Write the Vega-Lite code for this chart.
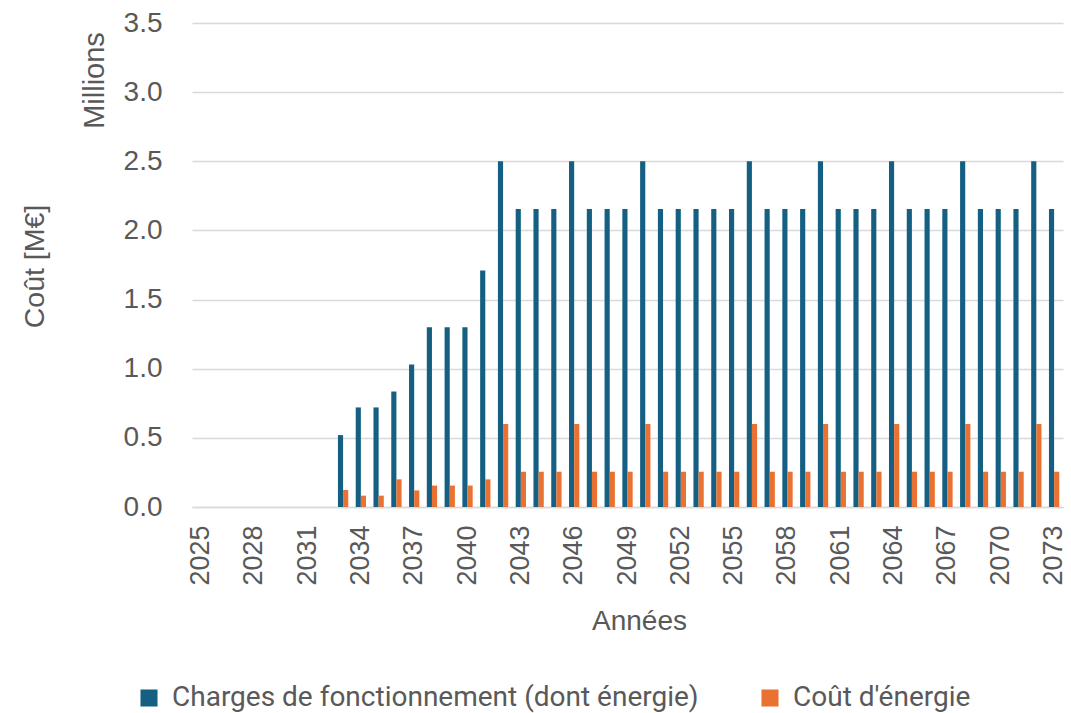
{
  "$schema": "https://vega.github.io/schema/vega-lite/v6.json",
  "autosize": {"type": "none"},
  "padding": {"left": 192, "top": 23, "right": 8, "bottom": 206},
  "width": 871,
  "height": 484,
  "background": "white",
  "config": {
    "font": "Liberation Sans",
    "view": {"stroke": null},
    "axis": {"labelColor": "#595959", "titleColor": "#595959", "titleFontWeight": "normal", "labelFont": "Liberation Sans", "titleFont": "Liberation Sans"}
  },
  "data": {
    "values": [
      {"annee": 2025, "serie": "Charges de fonctionnement (dont énergie)", "cout": 0}, {"annee": 2025, "serie": "Coût d'énergie", "cout": 0},
      {"annee": 2026, "serie": "Charges de fonctionnement (dont énergie)", "cout": 0}, {"annee": 2026, "serie": "Coût d'énergie", "cout": 0},
      {"annee": 2027, "serie": "Charges de fonctionnement (dont énergie)", "cout": 0}, {"annee": 2027, "serie": "Coût d'énergie", "cout": 0},
      {"annee": 2028, "serie": "Charges de fonctionnement (dont énergie)", "cout": 0}, {"annee": 2028, "serie": "Coût d'énergie", "cout": 0},
      {"annee": 2029, "serie": "Charges de fonctionnement (dont énergie)", "cout": 0}, {"annee": 2029, "serie": "Coût d'énergie", "cout": 0},
      {"annee": 2030, "serie": "Charges de fonctionnement (dont énergie)", "cout": 0}, {"annee": 2030, "serie": "Coût d'énergie", "cout": 0},
      {"annee": 2031, "serie": "Charges de fonctionnement (dont énergie)", "cout": 0}, {"annee": 2031, "serie": "Coût d'énergie", "cout": 0},
      {"annee": 2032, "serie": "Charges de fonctionnement (dont énergie)", "cout": 0}, {"annee": 2032, "serie": "Coût d'énergie", "cout": 0},
      {"annee": 2033, "serie": "Charges de fonctionnement (dont énergie)", "cout": 0.52}, {"annee": 2033, "serie": "Coût d'énergie", "cout": 0.123},
      {"annee": 2034, "serie": "Charges de fonctionnement (dont énergie)", "cout": 0.72}, {"annee": 2034, "serie": "Coût d'énergie", "cout": 0.082},
      {"annee": 2035, "serie": "Charges de fonctionnement (dont énergie)", "cout": 0.72}, {"annee": 2035, "serie": "Coût d'énergie", "cout": 0.082},
      {"annee": 2036, "serie": "Charges de fonctionnement (dont énergie)", "cout": 0.835}, {"annee": 2036, "serie": "Coût d'énergie", "cout": 0.2},
      {"annee": 2037, "serie": "Charges de fonctionnement (dont énergie)", "cout": 1.03}, {"annee": 2037, "serie": "Coût d'énergie", "cout": 0.12},
      {"annee": 2038, "serie": "Charges de fonctionnement (dont énergie)", "cout": 1.3}, {"annee": 2038, "serie": "Coût d'énergie", "cout": 0.155},
      {"annee": 2039, "serie": "Charges de fonctionnement (dont énergie)", "cout": 1.3}, {"annee": 2039, "serie": "Coût d'énergie", "cout": 0.155},
      {"annee": 2040, "serie": "Charges de fonctionnement (dont énergie)", "cout": 1.3}, {"annee": 2040, "serie": "Coût d'énergie", "cout": 0.155},
      {"annee": 2041, "serie": "Charges de fonctionnement (dont énergie)", "cout": 1.71}, {"annee": 2041, "serie": "Coût d'énergie", "cout": 0.2},
      {"annee": 2042, "serie": "Charges de fonctionnement (dont énergie)", "cout": 2.5}, {"annee": 2042, "serie": "Coût d'énergie", "cout": 0.6},
      {"annee": 2043, "serie": "Charges de fonctionnement (dont énergie)", "cout": 2.155}, {"annee": 2043, "serie": "Coût d'énergie", "cout": 0.255},
      {"annee": 2044, "serie": "Charges de fonctionnement (dont énergie)", "cout": 2.155}, {"annee": 2044, "serie": "Coût d'énergie", "cout": 0.255},
      {"annee": 2045, "serie": "Charges de fonctionnement (dont énergie)", "cout": 2.155}, {"annee": 2045, "serie": "Coût d'énergie", "cout": 0.255},
      {"annee": 2046, "serie": "Charges de fonctionnement (dont énergie)", "cout": 2.5}, {"annee": 2046, "serie": "Coût d'énergie", "cout": 0.6},
      {"annee": 2047, "serie": "Charges de fonctionnement (dont énergie)", "cout": 2.155}, {"annee": 2047, "serie": "Coût d'énergie", "cout": 0.255},
      {"annee": 2048, "serie": "Charges de fonctionnement (dont énergie)", "cout": 2.155}, {"annee": 2048, "serie": "Coût d'énergie", "cout": 0.255},
      {"annee": 2049, "serie": "Charges de fonctionnement (dont énergie)", "cout": 2.155}, {"annee": 2049, "serie": "Coût d'énergie", "cout": 0.255},
      {"annee": 2050, "serie": "Charges de fonctionnement (dont énergie)", "cout": 2.5}, {"annee": 2050, "serie": "Coût d'énergie", "cout": 0.6},
      {"annee": 2051, "serie": "Charges de fonctionnement (dont énergie)", "cout": 2.155}, {"annee": 2051, "serie": "Coût d'énergie", "cout": 0.255},
      {"annee": 2052, "serie": "Charges de fonctionnement (dont énergie)", "cout": 2.155}, {"annee": 2052, "serie": "Coût d'énergie", "cout": 0.255},
      {"annee": 2053, "serie": "Charges de fonctionnement (dont énergie)", "cout": 2.155}, {"annee": 2053, "serie": "Coût d'énergie", "cout": 0.255},
      {"annee": 2054, "serie": "Charges de fonctionnement (dont énergie)", "cout": 2.155}, {"annee": 2054, "serie": "Coût d'énergie", "cout": 0.255},
      {"annee": 2055, "serie": "Charges de fonctionnement (dont énergie)", "cout": 2.155}, {"annee": 2055, "serie": "Coût d'énergie", "cout": 0.255},
      {"annee": 2056, "serie": "Charges de fonctionnement (dont énergie)", "cout": 2.5}, {"annee": 2056, "serie": "Coût d'énergie", "cout": 0.6},
      {"annee": 2057, "serie": "Charges de fonctionnement (dont énergie)", "cout": 2.155}, {"annee": 2057, "serie": "Coût d'énergie", "cout": 0.255},
      {"annee": 2058, "serie": "Charges de fonctionnement (dont énergie)", "cout": 2.155}, {"annee": 2058, "serie": "Coût d'énergie", "cout": 0.255},
      {"annee": 2059, "serie": "Charges de fonctionnement (dont énergie)", "cout": 2.155}, {"annee": 2059, "serie": "Coût d'énergie", "cout": 0.255},
      {"annee": 2060, "serie": "Charges de fonctionnement (dont énergie)", "cout": 2.5}, {"annee": 2060, "serie": "Coût d'énergie", "cout": 0.6},
      {"annee": 2061, "serie": "Charges de fonctionnement (dont énergie)", "cout": 2.155}, {"annee": 2061, "serie": "Coût d'énergie", "cout": 0.255},
      {"annee": 2062, "serie": "Charges de fonctionnement (dont énergie)", "cout": 2.155}, {"annee": 2062, "serie": "Coût d'énergie", "cout": 0.255},
      {"annee": 2063, "serie": "Charges de fonctionnement (dont énergie)", "cout": 2.155}, {"annee": 2063, "serie": "Coût d'énergie", "cout": 0.255},
      {"annee": 2064, "serie": "Charges de fonctionnement (dont énergie)", "cout": 2.5}, {"annee": 2064, "serie": "Coût d'énergie", "cout": 0.6},
      {"annee": 2065, "serie": "Charges de fonctionnement (dont énergie)", "cout": 2.155}, {"annee": 2065, "serie": "Coût d'énergie", "cout": 0.255},
      {"annee": 2066, "serie": "Charges de fonctionnement (dont énergie)", "cout": 2.155}, {"annee": 2066, "serie": "Coût d'énergie", "cout": 0.255},
      {"annee": 2067, "serie": "Charges de fonctionnement (dont énergie)", "cout": 2.155}, {"annee": 2067, "serie": "Coût d'énergie", "cout": 0.255},
      {"annee": 2068, "serie": "Charges de fonctionnement (dont énergie)", "cout": 2.5}, {"annee": 2068, "serie": "Coût d'énergie", "cout": 0.6},
      {"annee": 2069, "serie": "Charges de fonctionnement (dont énergie)", "cout": 2.155}, {"annee": 2069, "serie": "Coût d'énergie", "cout": 0.255},
      {"annee": 2070, "serie": "Charges de fonctionnement (dont énergie)", "cout": 2.155}, {"annee": 2070, "serie": "Coût d'énergie", "cout": 0.255},
      {"annee": 2071, "serie": "Charges de fonctionnement (dont énergie)", "cout": 2.155}, {"annee": 2071, "serie": "Coût d'énergie", "cout": 0.255},
      {"annee": 2072, "serie": "Charges de fonctionnement (dont énergie)", "cout": 2.5}, {"annee": 2072, "serie": "Coût d'énergie", "cout": 0.6},
      {"annee": 2073, "serie": "Charges de fonctionnement (dont énergie)", "cout": 2.155}, {"annee": 2073, "serie": "Coût d'énergie", "cout": 0.255}
    ]
  },
  "layer": [
    {
      "mark": {"type": "bar"},
      "encoding": {
        "x": {
          "field": "annee", "type": "ordinal",
          "scale": {"paddingInner": 0.42, "paddingOuter": 0.21},
          "axis": {
            "title": "Années", "titleFontSize": 28, "titlePadding": 22, "titleX": 447,
            "values": [2025, 2028, 2031, 2034, 2037, 2040, 2043, 2046, 2049, 2052, 2055, 2058, 2061, 2064, 2067, 2070, 2073],
            "labelAngle": -90, "labelAlign": "right", "labelBaseline": "middle", "labelFontSize": 27, "labelPadding": 18,
            "ticks": false, "domainColor": "#d9d9d9", "domainWidth": 1.5, "grid": false
          }
        },
        "xOffset": {"field": "serie", "type": "nominal", "sort": ["Charges de fonctionnement (dont énergie)", "Coût d'énergie"]},
        "y": {
          "field": "cout", "type": "quantitative",
          "scale": {"domain": [0, 3.5], "nice": false},
          "axis": {
            "title": "Coût [M€]", "titleFontSize": 28.5, "titleAngle": -90, "titleAlign": "center", "titleBaseline": "middle",
            "titleX": -158, "titleY": 243,
            "values": [0, 0.5, 1, 1.5, 2, 2.5, 3, 3.5], "format": ".1f",
            "labelFontSize": 28, "labelPadding": 30, "ticks": false, "domain": false,
            "grid": true, "gridColor": "#d9d9d9", "gridWidth": 1.5
          }
        },
        "color": {
          "field": "serie", "type": "nominal",
          "sort": ["Charges de fonctionnement (dont énergie)", "Coût d'énergie"],
          "scale": {"domain": ["Charges de fonctionnement (dont énergie)", "Coût d'énergie"], "range": ["#156082", "#E97132"]},
          "legend": {
            "title": null, "orient": "none", "legendX": -57, "legendY": 661, "direction": "horizontal",
            "symbolType": "square", "symbolSize": 290, "symbolStrokeWidth": 0,
            "labelFont": "Roboto", "labelFontSize": 28, "labelColor": "#595959", "labelLimit": 700,
            "columnPadding": 57, "labelOffset": 9
          }
        }
      }
    },
    {
      "mark": {"type": "rule", "opacity": 0},
      "encoding": {
        "y": {
          "datum": 0, "type": "quantitative",
          "axis": {
            "orient": "left", "title": "Millions", "titleFontSize": 29, "titleAngle": -90, "titleAlign": "center", "titleBaseline": "middle",
            "titleX": -98, "titleY": 57, "labels": false, "ticks": false, "domain": false, "grid": false
          }
        }
      }
    }
  ],
  "resolve": {"axis": {"y": "independent"}}
}
